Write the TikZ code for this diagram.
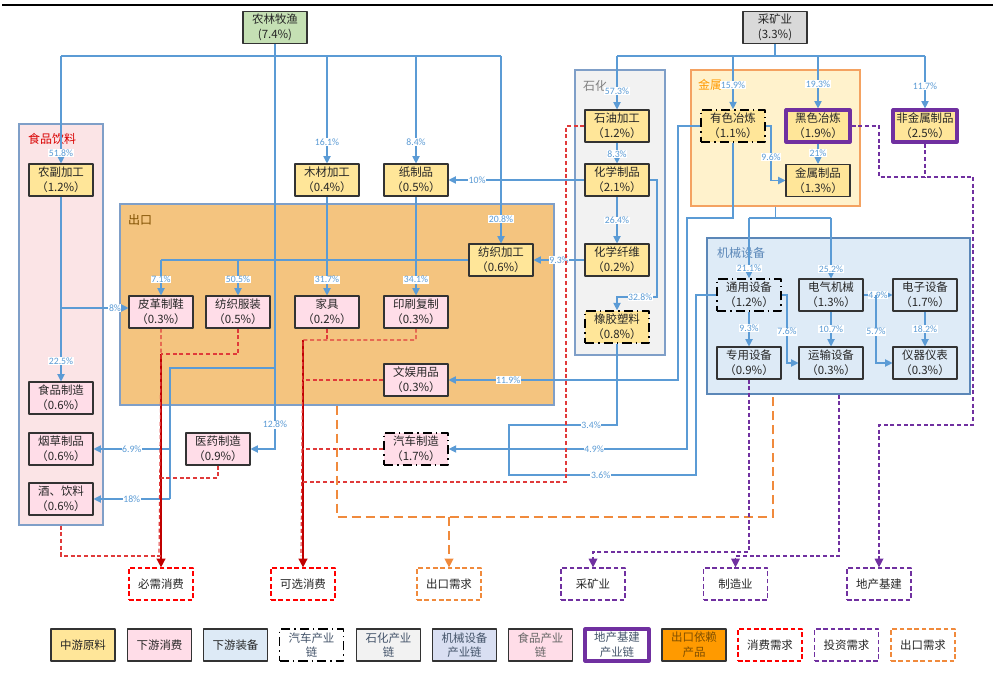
\documentclass[tikz,border=0pt]{standalone}
\usepackage{fontspec}
\setmainfont{Noto Sans CJK SC}
\newfontfamily\pctfont{Carlito}
\usetikzlibrary{arrows.meta}
\definecolor{lblue}{HTML}{5B9BD5}
\definecolor{midfill}{HTML}{FFE699}
\definecolor{downfill}{HTML}{FFDDE8}
\definecolor{eqfill}{HTML}{DDEAF6}
\definecolor{agrifill}{HTML}{C5E0B4}
\definecolor{purp}{HTML}{7030A0}
\definecolor{consred}{HTML}{E03A3A}
\definecolor{trunkred}{HTML}{C00000}
\definecolor{expor}{HTML}{F08A3C}
\definecolor{slate}{HTML}{44546A}
\definecolor{grpedge}{HTML}{7F9FC8}
\definecolor{foodbg}{HTML}{FBE4E6}
\definecolor{expbg}{HTML}{F4C47F}
\definecolor{metbg}{HTML}{FFF2CC}
\definecolor{metedge}{HTML}{F4A261}
\definecolor{machbg}{HTML}{DEEBF7}
\definecolor{machedge}{HTML}{5B87B8}
\definecolor{machleg}{HTML}{D9DFF2}
\definecolor{orangeleg}{HTML}{FF9A00}
\definecolor{brownleg}{HTML}{7F4F00}
\pgfdeclarelayer{grp}
\pgfdeclarelayer{lns}
\pgfsetlayers{grp,lns,main}
\tikzset{
  box/.style={draw=black!80,line width=0.8pt,minimum width=48pt,minimum height=24pt,inner sep=0pt,align=center,font=\fontsize{8.6}{11}\selectfont,text=black!85},
  mid/.style={box,fill=midfill},
  down/.style={box,fill=downfill},
  equip/.style={box,fill=eqfill},
  chain/.style={draw=black,line width=1.2pt,dash pattern=on 7pt off 3pt on 1pt off 3pt},
  invest/.style={draw=purp,line width=2.4pt},
  grp/.style={line width=0.8pt,inner sep=0pt},
  grplbl/.style={font=\fontsize{9}{10}\selectfont,inner sep=0pt},
  need/.style={box,fill=white,line width=0.9pt,dash pattern=on 3.5pt off 2pt},
  link/.style={draw=lblue,line width=0.8pt},
  flow/.style={link,-{Triangle[length=5.5pt,width=5.5pt]}},
  pct/.style={font=\pctfont\fontsize{7.3}{8}\selectfont,text=lblue,fill=white,inner sep=0.4pt},
  cons/.style={draw=consred,line width=0.9pt,dash pattern=on 3pt off 2pt},
  trunk/.style={draw=trunkred,line width=1.2pt,-{Triangle[length=6.5pt,width=6.5pt]}},
  invl/.style={draw=purp,line width=0.9pt,dash pattern=on 3pt off 2pt},
  expl/.style={draw=expor,line width=1pt,dash pattern=on 7pt off 3.5pt},
  sink/.style={-{Triangle[length=6.5pt,width=6.5pt]}},
}
\begin{document}
\begin{tikzpicture}[line join=round,x=0.75pt,y=-0.75pt]
\useasboundingbox (0,0) rectangle (995,673);
\draw[line width=1.6pt] (2,5) -- (993,5);

\begin{pgfonlayer}{grp}
\node[grp,draw=grpedge,fill=foodbg,minimum width=63pt,minimum height=300.75pt] (food) at (61,324.5) {};
\node[grp,draw=grpedge,fill=expbg,minimum width=325.5pt,minimum height=150.75pt] (export) at (337,304.5) {};
\node[grp,draw=grpedge,fill=black!5,minimum width=67.5pt,minimum height=213.75pt] (petro) at (620,212.5) {};
\node[grp,draw=metedge,fill=metbg,minimum width=126.75pt,minimum height=102pt] (metal) at (775.5,138) {};
\node[grp,draw=machedge,fill=machbg,minimum width=197.25pt,minimum height=117pt] (mach) at (838.5,316) {};
\node[grplbl,text=red!85!black] (foodlbl) at (52,139) {食品饮料};
\node[grplbl,text=brownleg] (explbl) at (140,220) {出口};
\node[grplbl,text=black!50] (petrolbl) at (595,86) {石化};
\node[grplbl,text=orange!80!yellow] (metlbl) at (710,85) {金属};
\node[grplbl,text=machedge] (machlbl) at (741,253) {机械设备};
\end{pgfonlayer}

\node[box,fill=agrifill] (agri) at (275,27.5) {农林牧渔\\(7.4\%)};
\node[box,fill=black!15] (mine) at (775,27.5) {采矿业\\(3.3\%)};

\node[mid] (nongfu) at (61,180) {农副加工\\（1.2\%）};
\node[down] (shipin) at (61,398) {食品制造\\（0.6\%）};
\node[down] (yancao) at (61,449) {烟草制品\\（0.6\%）};
\node[down] (jiu) at (61,499) {酒、饮料\\（0.6\%）};

\node[mid] (mucai) at (327,180) {木材加工\\（0.4\%）};
\node[mid] (zhi) at (416,180) {纸制品\\（0.5\%）};
\node[mid] (fangjia) at (501,260) {纺织加工\\（0.6\%）};
\node[down] (pige) at (161,312) {皮革制鞋\\（0.3\%）};
\node[down] (fuzhuang) at (238,312) {纺织服装\\（0.5\%）};
\node[down] (jiaju) at (327,312) {家具\\（0.2\%）};
\node[down] (yinshua) at (416,312) {印刷复制\\（0.3\%）};
\node[down] (wenyu) at (416,380) {文娱用品\\（0.3\%）};
\node[down] (yiyao) at (218,449) {医药制造\\（0.9\%）};
\node[down,chain] (qiche) at (416,449) {汽车制造\\（1.7\%）};

\node[mid] (shiyou) at (617,126) {石油加工\\（1.2\%）};
\node[mid] (huaxue) at (617,180) {化学制品\\（2.1\%）};
\node[mid] (xianwei) at (617,260) {化学纤维\\（0.2\%）};
\node[mid,chain] (xiangjiao) at (617,327) {橡胶塑料\\（0.8\%）};

\node[mid,chain] (youse) at (733,126) {有色冶炼\\（1.1\%）};
\node[mid,invest] (heise) at (818,126) {黑色冶炼\\（1.9\%）};
\node[mid] (jinshu) at (818,180.5) {金属制品\\（1.3\%）};
\node[mid,invest] (feijin) at (925,126) {非金属制品\\（2.5\%）};

\node[equip,chain] (tongyong) at (749,295) {通用设备\\（1.2\%）};
\node[equip] (dianqi) at (831,295) {电气机械\\（1.3\%）};
\node[equip] (dianzi) at (925,295) {电子设备\\（1.7\%）};
\node[equip] (zhuanyong) at (749,363) {专用设备\\（0.9\%）};
\node[equip] (yunshu) at (831,363) {运输设备\\（0.3\%）};
\node[equip] (yiqi) at (925,363) {仪器仪表\\（0.3\%）};

\node[need,draw=red] (bixu) at (161,584) {必需消费};
\node[need,draw=red] (kexuan) at (303,584) {可选消费};
\node[need,draw=expor] (chukou) at (449,584) {出口需求};
\node[need,draw=purp] (caikuang) at (593,584) {采矿业};
\node[need,draw=purp] (zhizao) at (735.5,584) {制造业};
\node[need,draw=purp] (dichan) at (879,584) {地产基建};

\node[mid] (lg1) at (83,645) {中游原料};
\node[down] (lg2) at (159.5,645) {下游消费};
\node[equip] (lg3) at (235.5,645) {下游装备};
\node[box,chain,fill=white,text=slate] (lg4) at (311.5,645) {汽车产业\\链};
\node[box,fill=black!5,text=slate] (lg5) at (388.5,645) {石化产业\\链};
\node[box,fill=machleg,text=slate] (lg6) at (464.5,645) {机械设备\\产业链};
\node[down,text=black!60] (lg7) at (540.5,645) {食品产业\\链};
\node[box,invest,fill=white,text=slate] (lg8) at (617,645) {地产基建\\产业链};
\node[box,fill=orangeleg,text=brownleg] (lg9) at (694,645) {出口依赖\\产品};
\node[need,draw=red] (lg10) at (770,645) {消费需求};
\node[need,draw=purp] (lg11) at (846.5,645) {投资需求};
\node[need,draw=expor] (lg12) at (923,645) {出口需求};

\begin{pgfonlayer}{lns}
\draw[link] (agri.south) -- (agri.south |- 0,56);
\draw[link] (nongfu.north |- 0,56) -- (fangjia.north |- 0,56);
\draw[flow] (nongfu.north |- 0,56) -- (nongfu.north) node[pct,pos=0.9]{51.8\%};
\draw[flow] (mucai.north |- 0,56) -- (mucai.north) node[pct,pos=0.8]{16.1\%};
\draw[flow] (zhi.north |- 0,56) -- (zhi.north) node[pct,pos=0.8]{8.4\%};
\draw[flow] (fangjia.north |- 0,56) -- (fangjia.north) node[pct,pos=0.87]{20.8\%};
\draw[flow] (agri.south) |- (yiyao.east) node[pct,pos=0.47]{12.8\%};
\draw[link] (agri.south |- 0,368) -- (170,368) -- (170,499);
\draw[flow] (170,449) -- (yancao.east) node[pct,midway]{6.9\%};
\draw[flow] (170,499) -- (jiu.east) node[pct,midway]{18\%};

\draw[flow] (nongfu.south) -- (shipin.north) node[pct,pos=0.89]{22.5\%};
\draw[flow] (nongfu.south |- 0,308) -- (pige.west |- 0,308) node[pct,pos=0.8]{8\%};

\draw[link] (fangjia.west) -- (pige.north |- fangjia.west);
\draw[flow] (pige.north |- fangjia.west) -- (pige.north) node[pct,pos=0.55]{7.1\%};
\draw[flow] (fuzhuang.north |- fangjia.west) -- (fuzhuang.north) node[pct,pos=0.55]{50.5\%};
\draw[flow] (mucai.south) -- (jiaju.north) node[pct,pos=0.84]{31.7\%};
\draw[flow] (zhi.south) -- (yinshua.north) node[pct,pos=0.84]{34.1\%};
\draw[flow] (xianwei.west) -- (fangjia.east) node[pct,pos=0.5]{9.3\%};

\draw[link] (mine.south) -- (mine.south |- 0,56);
\draw[link] (shiyou.north |- 0,56) -- (feijin.north |- 0,56);
\draw[flow] (shiyou.north |- 0,56) -- (shiyou.north) node[pct,pos=0.65]{57.3\%};
\draw[flow] (youse.north |- 0,56) -- (youse.north) node[pct,pos=0.54]{15.9\%};
\draw[flow] (heise.north |- 0,56) -- (heise.north) node[pct,pos=0.54]{19.3\%};
\draw[flow] (feijin.north |- 0,56) -- (feijin.north) node[pct,pos=0.57]{11.7\%};
\draw[flow] (shiyou.south) -- (huaxue.north) node[pct,pos=0.55]{8.3\%};
\draw[flow] (huaxue.south) -- (xianwei.north) node[pct,pos=0.51]{26.4\%};
\draw[flow] (huaxue.west) -- (zhi.east) node[pct,pos=0.79]{10\%};
\draw[flow] (huaxue.east) -| (657,297) -- (xiangjiao.north |- 0,297) node[pct,pos=0.42]{32.8\%} -- (xiangjiao.north);

\draw[flow] (heise.south) -- (jinshu.north) node[pct,pos=0.48]{21\%};
\draw[flow] (youse.east) -- (771,126) -- (771,0 |- jinshu.west) node[pct,pos=0.57]{9.6\%} -- (jinshu.west);
\draw[link] (metal.south) -- (metal.south |- 0,218);
\draw[link] (tongyong.north |- 0,218) -- (dianqi.north |- 0,218);
\draw[flow] (tongyong.north |- 0,218) -- (tongyong.north) node[pct,pos=0.84]{21.1\%};
\draw[flow] (dianqi.north |- 0,218) -- (dianqi.north) node[pct,pos=0.84]{25.2\%};

\draw[flow] (youse.south) |- (687,218) -- (687,0 |- qiche.east) -- (qiche.east) node[pct,pos=0.39]{4.9\%};
\draw[link] (xiangjiao.south) |- (509,425) node[pct,pos=0.62]{3.4\%} -- (509,0 |- qiche.east);
\draw[link] (tongyong.west) -| (696,475) -- (509,475) node[pct,pos=0.51]{3.6\%} -- (509,0 |- qiche.east);
\draw[flow] (youse.west) -| (678,380) -- (wenyu.east) node[pct,pos=0.74]{11.9\%};

\draw[flow] (tongyong.south) -- (zhuanyong.north) node[pct,pos=0.47]{9.3\%};
\draw[flow] (tongyong.east) -- (787,295) -- (787,363) node[pct,pos=0.54]{7.6\%} -- (yunshu.west);
\draw[flow] (dianqi.south) -- (yunshu.north) node[pct,pos=0.5]{10.7\%};
\draw[flow] (dianqi.east) -- (dianzi.west) node[pct,midway]{4.9\%};
\draw[flow] (876,295) -- (876,363) node[pct,pos=0.54]{5.7\%} -- (yiqi.west);
\draw[flow] (dianzi.south) -- (yiqi.north) node[pct,pos=0.5]{18.2\%};

\draw[trunk] (pige.south |- 0,354) -- (bixu.north);
\draw[cons] (pige.south) -- (pige.south |- 0,354) -- ([xshift=-1.5pt]bixu.north |- 0,556);
\draw[cons] (fuzhuang.south) |- (pige.south |- 0,354);
\draw[cons] (yiyao.south) |- (bixu.north |- 0,478);
\draw[cons] (food.south) |- (bixu.north |- 0,556);
\draw[trunk] (kexuan.north |- 0,340) -- (kexuan.north);
\draw[cons] (jiaju.south) -- (jiaju.south |- 0,340);
\draw[cons] (yinshua.south) |- (kexuan.north |- 0,340) -- ([xshift=-1.5pt]kexuan.north |- 0,556);
\draw[cons] (wenyu.west) -- (kexuan.north |- wenyu.west);
\draw[cons] (qiche.west) -- (kexuan.north |- qiche.west);
\draw[cons] (shiyou.west) -| (566,482) -- (kexuan.north |- 0,482);

\draw[expl] (export.south) |- (773,517) -- (773,0 |- mach.south);
\draw[expl,sink] (chukou.north |- 0,517) -- (chukou.north);

\draw[invl,sink] (zhuanyong.south) |- (caikuang.north |- 0,552) -- (caikuang.north);
\draw[invl,sink] (839,0 |- mach.south) |- (zhizao.north |- 0,556) -- (zhizao.north);
\draw[invl] (heise.east) -| (879,177) -- (973,177);
\draw[invl] (feijin.south) -- (feijin.south |- 0,177);
\draw[invl,sink] (973,177) |- (dichan.north |- 0,425) -- (dichan.north);
\end{pgfonlayer}
\end{tikzpicture}
\end{document}
